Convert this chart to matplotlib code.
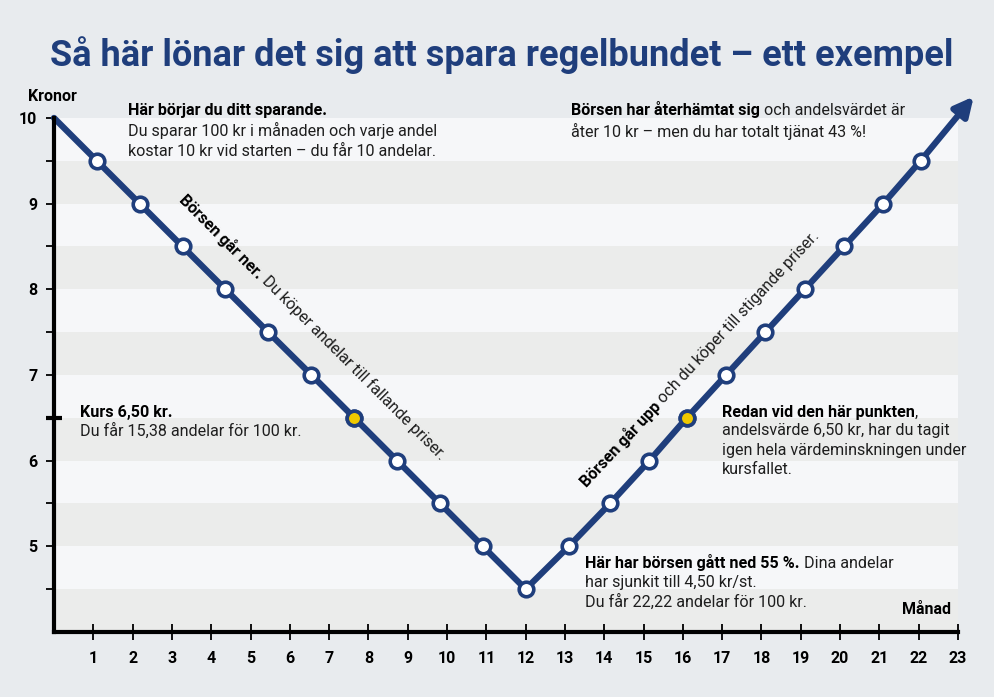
import math
import matplotlib
matplotlib.use("Agg")
from matplotlib import pyplot as plt
from matplotlib.transforms import offset_copy

# price per month
fall_x = [0, 1.09, 2.18, 3.27, 4.36, 5.45, 6.55, 7.64, 8.73, 9.82, 10.91, 12]
fall_y = [10, 9.5, 9.0, 8.5, 8.0, 7.5, 7.0, 6.5, 6.0, 5.5, 5.0, 4.5]
rise_x = [13.1, 14.15, 15.15, 16.1, 17.1, 18.1, 19.1, 20.1, 21.1, 22.05]
rise_y = [5.0, 5.5, 6.0, 6.5, 7.0, 7.5, 8.0, 8.5, 9.0, 9.5]
arrow_tip = (23.4, 10.25)
yellow_x = [7.64, 16.1]
yellow_y = [6.5, 6.5]

x_ticks = list(range(1, 24))
y_ticks = [5, 6, 7, 8, 9, 10]
y_minor = [4.5, 5.5, 7.5, 8.5, 9.5]
light_bands = [(4.5, 5), (5.5, 6), (6.5, 7), (7.5, 8), (8.5, 9), (9.5, 10)]

BLUE = "#1f3e7c"
BG = "#e8ebee"
LIGHT = "#f6f7f9"
GRAY = "#ebeceb"
YELLOW = "#efc900"

plt.rcParams["font.family"] = ["Roboto", "DejaVu Sans"]

fig = plt.figure(figsize=(9.94, 6.97), dpi=100, facecolor=BG)
ax = fig.add_axes([0.0543, 0.0933, 0.9095, 0.7375])
ax.set_facecolor(GRAY)
ax.set_xlim(0, 23)
ax.set_ylim(4, 10)
for lo, hi in light_bands:
    ax.axhspan(lo, hi, color=LIGHT, lw=0, zorder=0)

for s in ["top", "right"]:
    ax.spines[s].set_visible(False)
for s in ["left", "bottom"]:
    ax.spines[s].set_linewidth(3)
    ax.spines[s].set_zorder(5)

ax.set_xticks(x_ticks)
ax.set_xticklabels([str(v) for v in x_ticks], fontweight="bold", fontsize=11.5)
ax.tick_params(axis="x", direction="inout", length=11, width=1.3, pad=8)
ax.set_yticks(y_ticks)
ax.set_yticklabels([str(v) for v in y_ticks], fontweight="bold", fontsize=11.5)
ax.set_yticks(y_minor, minor=True)
ax.tick_params(axis="y", which="both", direction="out", length=6, width=1.3, pad=6)

# the marked 6,50 level
sec = ax.secondary_yaxis("left")
sec.set_yticks([6.5])
sec.set_yticklabels([""])
sec.tick_params(direction="inout", length=12, width=3)
sec.spines["left"].set_visible(False)

# line, arrow and markers
ax.plot(fall_x, fall_y, color=BLUE, lw=4.5, zorder=3, clip_on=False, solid_capstyle="round")
ax.plot([fall_x[-1]] + rise_x, [fall_y[-1]] + rise_y, color=BLUE, lw=4.5, zorder=3,
        solid_joinstyle="round")
ax.annotate("", xy=arrow_tip, xytext=(rise_x[-1], rise_y[-1]), annotation_clip=False,
            arrowprops=dict(arrowstyle="-|>", color=BLUE, lw=4.5, mutation_scale=28,
                            shrinkA=0, shrinkB=0), zorder=3)
ax.plot(fall_x[1:] + rise_x, fall_y[1:] + rise_y, "o", ms=10.5, mfc="white", mec=BLUE,
        mew=2.6, zorder=4, clip_on=False)
ax.plot(yellow_x, yellow_y, "o", ms=10.5, mfc=YELLOW, mec=BLUE, mew=2.6, zorder=4)

fig.text(0.505, 0.921, "Så här lönar det sig att spara regelbundet – ett exempel",
         ha="center", va="center", fontsize=26, fontweight="bold", color=BLUE)
fig.text(0.028, 0.861, "Kronor", fontsize=11.5, fontweight="bold", va="center")
ax.text(22.82, 4.26, "Månad", fontsize=11.5, fontweight="bold", ha="right", va="center")

FS = 11.6
TC = "#1e1e1e"
STEP = 0.233


def chain(x, y, bold, rest):
    t = ax.text(x, y, bold, fontsize=FS, fontweight="bold", va="bottom", ha="left", color="black")
    if rest:
        ax.annotate(rest, xy=(1, 0), xycoords=t, va="bottom", ha="left", fontsize=FS, color=TC)
    return t


def lines(x, y, rows, step=STEP):
    for i, row in enumerate(rows):
        ax.text(x, y - i * step, row, fontsize=FS, va="bottom", ha="left", color=TC)


chain(1.88, 9.994, "Här börjar du ditt sparande.", "")
lines(1.88, 9.749, ["Du sparar 100 kr i månaden och varje andel",
                    "kostar 10 kr vid starten – du får 10 andelar."])

chain(13.15, 9.994, "Börsen har återhämtat sig", " och andelsvärdet är")
lines(13.15, 9.737, ["åter 10 kr – men du har totalt tjänat 43 %!"])

chain(0.66, 6.48, "Kurs 6,50 kr.", "")
lines(0.66, 6.26, ["Du får 15,38 andelar för 100 kr."])

chain(17.0, 6.48, "Redan vid den här punkten", ",")
lines(17.0, 6.26, ["andelsvärde 6,50 kr, har du tagit",
                   "igen hela värdeminskningen under",
                   "kursfallet."], step=0.228)

chain(13.51, 4.708, "Här har börsen gått ned 55 %.", " Dina andelar")
lines(13.51, 4.486, ["har sjunkit till 4,50 kr/st.",
                     "Du får 22,22 andelar för 100 kr."])

# rotated captions along the line
renderer = fig.canvas.get_renderer()


def rotated(x, y, bold, rest, angle):
    ax.text(x, y, bold, rotation=angle, rotation_mode="anchor", ha="left", va="center",
            fontsize=FS, fontweight="bold")
    probe = ax.text(0, 0, bold, fontsize=FS, fontweight="bold")
    w = probe.get_window_extent(renderer).width + 4
    probe.remove()
    a = math.radians(angle)
    tr = offset_copy(ax.transData, fig=fig, x=w * math.cos(a), y=w * math.sin(a), units="dots")
    ax.text(x, y, rest, transform=tr, rotation=angle, rotation_mode="anchor", ha="left",
            va="center", fontsize=FS, color=TC)


rotated(3.27, 9.08, "Börsen går ner.", "Du köper andelar till fallande priser.", -45)
rotated(13.46, 5.72, "Börsen går upp", "och du köper till stigande priser.", 47)

fig.savefig("out.png", dpi=100, facecolor=BG)
